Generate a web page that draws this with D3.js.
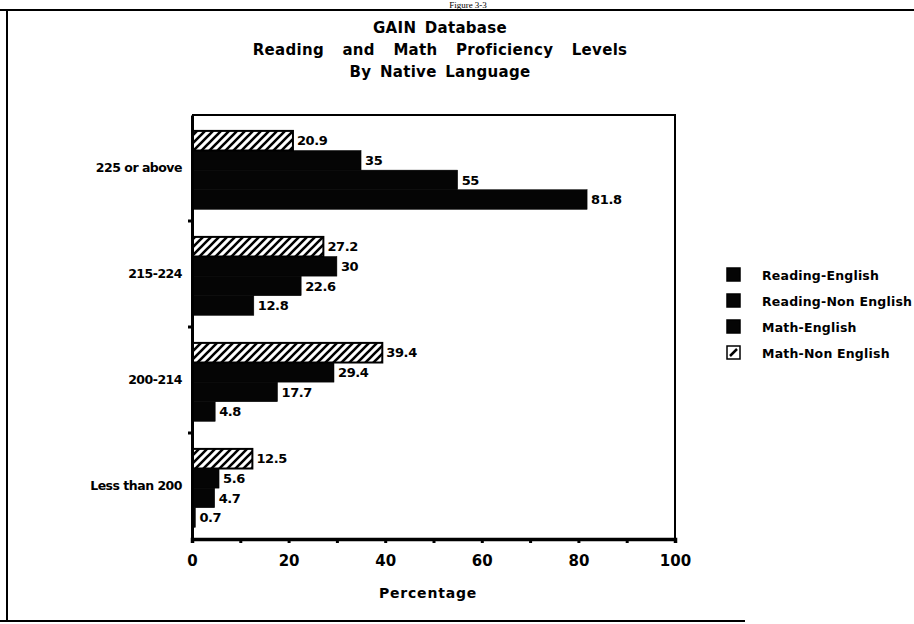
<!DOCTYPE html>
<html>
<head>
<meta charset="utf-8">
<script src="https://cdn.jsdelivr.net/npm/d3@7"></script>
<style>
  html, body { margin: 0; padding: 0; background: #fff; }
  svg { display: block; font-family: "DejaVu Sans", "Liberation Sans", Arial, sans-serif; font-weight: bold; }
</style>
</head>
<body>
<svg id="chart" width="914" height="624"></svg>
<script>
// ---- data ----
const categories = ["225 or above", "215-224", "200-214", "Less than 200"];
const seriesNames = ["Reading-English", "Reading-Non English", "Math-English", "Math-Non English"];
const readingEnglish    = [81.8, 12.8, 4.8, 0.7];
const readingNonEnglish = [55, 22.6, 17.7, 4.7];
const mathEnglish       = [35, 30, 29.4, 5.6];
const mathNonEnglish    = [20.9, 27.2, 39.4, 12.5];
const xTickValues = [0, 10, 20, 30, 40, 50, 60, 70, 80, 90, 100];
const titleLines = ["GAIN Database", "Reading and Math Proficiency Levels", "By Native Language"];
const xAxisTitle = "Percentage";

const seriesValues = [readingEnglish, readingNonEnglish, mathEnglish, mathNonEnglish];

const svg = d3.select("#chart");

// hatch pattern
const defs = svg.append("defs");
const pat = defs.append("pattern").attr("id", "hatch")
  .attr("patternUnits", "userSpaceOnUse").attr("width", 8).attr("height", 8);
pat.append("rect").attr("width", 8).attr("height", 8).attr("fill", "#fff");
pat.append("path").attr("d", "M-2,2 L2,-2 M0,8 L8,0 M6,10 L10,6")
  .attr("stroke", "#000").attr("stroke-width", 2.6);

const fills = { "Reading-English": "#050505", "Reading-Non English": "#050505", "Math-English": "#050505", "Math-Non English": "url(#hatch)" };

// page frame
svg.append("line").attr("x1", 0).attr("x2", 914).attr("y1", 10).attr("y2", 10).attr("stroke", "#000").attr("stroke-width", 2);
svg.append("line").attr("x1", 7).attr("x2", 7).attr("y1", 10).attr("y2", 621).attr("stroke", "#000").attr("stroke-width", 2);
svg.append("line").attr("x1", 0).attr("x2", 745).attr("y1", 621).attr("y2", 621).attr("stroke", "#000").attr("stroke-width", 2);

// small heading above the frame
svg.append("text").attr("x", 468).attr("y", 8).attr("text-anchor", "middle")
  .style("font-family", "'Liberation Serif', serif").style("font-weight", "normal").style("font-size", "9px")
  .text("Figure 3-3");

// titles
const wordSpacing = [3, 13, 3];
svg.append("g").selectAll("text").data(titleLines).join("text")
  .attr("x", 440).attr("y", (d, i) => 33 + i * 22)
  .attr("text-anchor", "middle").style("font-size", "15px")
  .style("word-spacing", (d, i) => wordSpacing[i] + "px").style("letter-spacing", "0.3px")
  .text(d => d);

const pLeft = 192, pRight = 675, pTop = 115, pBottom = 539;
const x = d3.scaleLinear().domain([0, 100]).range([pLeft, pRight]);
const y = d3.scaleBand().domain(categories).range([pTop, pBottom]).padding(0);
const bw = y.bandwidth();
const sub = d3.scaleBand().domain(["Math-Non English", "Math-English", "Reading-Non English", "Reading-English"])
  .range([bw * 0.15, bw * 0.89]).padding(0);

// plot box (top & right)
svg.append("path").attr("d", `M${pLeft},${pTop} H${pRight} V${pBottom}`).attr("fill", "none").attr("stroke", "#000").attr("stroke-width", 2);

// bars
const rows = [];
seriesNames.forEach((s, si) => categories.forEach((c, ci) => rows.push({ s, c, v: seriesValues[si][ci] })));

const gBars = svg.append("g");
gBars.selectAll("rect").data(rows).join("rect")
  .attr("x", x(0))
  .attr("y", d => y(d.c) + sub(d.s))
  .attr("width", d => x(d.v) - x(0))
  .attr("height", sub.bandwidth())
  .attr("fill", d => fills[d.s])
  .attr("stroke", "#000").attr("stroke-width", d => d.s === "Math-Non English" ? 2 : 0.5);

gBars.selectAll("text").data(rows).join("text")
  .attr("x", d => x(d.v) + 4)
  .attr("y", d => y(d.c) + sub(d.s) + sub.bandwidth() / 2)
  .attr("dy", "0.36em")
  .style("font-size", "13px").style("letter-spacing", "-0.4px")
  .text(d => d.v);

// x axis
const xAxis = d3.axisBottom(x).tickValues(xTickValues).tickSize(4).tickPadding(12)
  .tickFormat(d => d % 20 === 0 ? d : "");
const gx = svg.append("g").attr("transform", `translate(0,${pBottom})`).call(xAxis);
gx.select(".domain").attr("stroke-width", 3.5);
gx.selectAll(".tick line").attr("stroke-width", 3);
gx.selectAll(".tick text").style("font-size", "15px").style("font-weight", "bold").style("font-family", "'DejaVu Sans', sans-serif");

svg.append("text").attr("x", 428).attr("y", 598).attr("text-anchor", "middle")
  .style("font-size", "14px").style("letter-spacing", "0.8px").text(xAxisTitle);

// y axis
const yAxis = d3.axisLeft(y).tickSize(0).tickPadding(10);
const gy = svg.append("g").attr("transform", `translate(${pLeft},0)`).call(yAxis);
gy.select(".domain").attr("stroke-width", 3);
gy.selectAll(".tick text").style("font-size", "12.5px").style("letter-spacing", "-0.5px")
  .style("font-weight", "bold").style("font-family", "'DejaVu Sans', sans-serif");
// boundary ticks on y axis
const boundaries = categories.slice(1).map(c => y(c));
svg.append("g").selectAll("line").data(boundaries).join("line")
  .attr("x1", pLeft - 4).attr("x2", pLeft).attr("y1", d => d).attr("y2", d => d)
  .attr("stroke", "#000").attr("stroke-width", 3);

// legend
const lg = svg.append("g").attr("transform", "translate(727,275)");
const li = lg.selectAll("g").data(seriesNames).join("g")
  .attr("transform", (d, i) => `translate(0,${i * 26})`);
li.append("rect").attr("x", 0).attr("y", -7).attr("width", 13).attr("height", 13)
  .attr("fill", d => d === "Math-Non English" ? "#fff" : "#050505").attr("stroke", "#000").attr("stroke-width", 1.5);
li.filter(d => d === "Math-Non English").append("path").attr("d", "M3,3 L10,-4").attr("stroke", "#000").attr("stroke-width", 2.5);
li.append("text").attr("x", 35).attr("y", 0).attr("dy", "0.36em")
  .style("font-size", "12.5px").style("letter-spacing", "0.2px").text(d => d);
</script>
</body>
</html>
